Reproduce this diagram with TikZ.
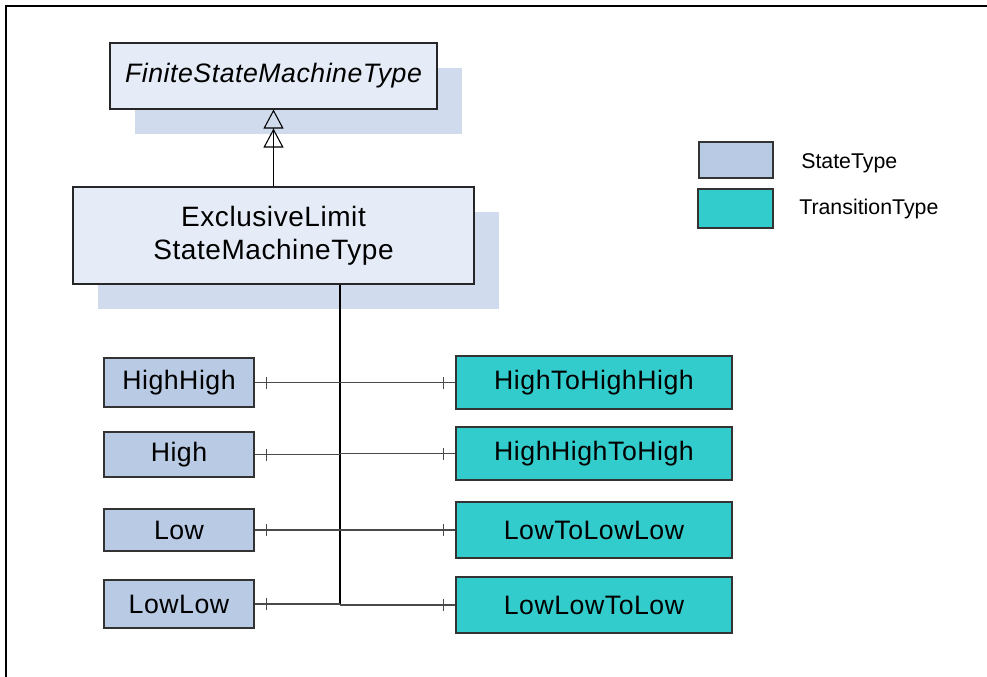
\documentclass[tikz,border=0pt]{standalone}
\usepackage{fontspec}
\setmainfont{Liberation Sans}
\newfontfamily\boxfont{Liberation Sans}[LetterSpace=2]
\usetikzlibrary{arrows.meta,shadows,decorations.markings}
\definecolor{classfill}{HTML}{E6ECF7}
\definecolor{shadowc}{HTML}{D0DCEE}
\definecolor{statefill}{HTML}{B8CAE4}
\definecolor{transfill}{HTML}{33CCCC}
\definecolor{linkgray}{HTML}{4A4A4A}
\tikzset{
  classbox/.style={draw=black!85, fill=classfill, line width=0.8pt, inner sep=0pt,
    general shadow={fill=shadowc, shadow xshift=18.75pt, shadow yshift=-18.75pt},
    font=\boxfont\fontsize{20}{24.75}\selectfont, align=center},
  statebox/.style={draw=black!80, fill=statefill, line width=0.8pt, inner sep=0pt,
    minimum width=112.5pt, font=\boxfont\fontsize{20}{23}\selectfont},
  transbox/.style={draw=black!80, fill=transfill, line width=0.8pt, inner sep=0pt,
    minimum width=207pt, font=\boxfont\fontsize{20}{23}\selectfont},
  legendtext/.style={anchor=west, inner sep=0pt, font=\fontsize{16}{19}\selectfont},
  buslink/.style={draw=black, line width=1pt},
  startbar/.style={draw=linkgray, line width=1pt, postaction={decorate},
    decoration={markings, mark=at position 9pt with {\draw[linkgray, line width=0.9pt] (0,-4.5pt) -- (0,4.5pt);}}},
  endbar/.style={draw=linkgray, line width=1pt, postaction={decorate},
    decoration={markings, mark=at position -9pt with {\draw[linkgray, line width=0.9pt] (0,-4.5pt) -- (0,4.5pt);}}},
  genarrow/.style={draw=black, line width=0.8pt,
    -{Triangle[open,width=15pt,length=14.25pt] Triangle[open,width=15pt,length=14.25pt]}}
}
\begin{document}
\begin{tikzpicture}[x=0.75pt,y=-0.75pt]
\useasboundingbox (0,0) rectangle (987,677);
\begin{scope}
\clip (0,0) rectangle (987,677);
\draw[line width=1.5pt, black] (6,6) rectangle (1000,700);
\end{scope}

% classes
\node[classbox, minimum width=245.25pt, minimum height=49.5pt] (fsm) at (273.5,76)
  {\itshape FiniteStateMachineType};
\node[classbox, minimum width=300.75pt, minimum height=72.75pt,
  font=\boxfont\fontsize{21}{24.75}\selectfont] (elsm) at (273.5,235.5)
  {ExclusiveLimit\\StateMachineType};

\draw[genarrow] (elsm.north) -- (fsm.south);

% states
\node[statebox, minimum height=36.75pt] (hh) at (179,382.5) {HighHigh};
\node[statebox, minimum height=33.75pt] (h)  at (179,454.5) {High};
\node[statebox, minimum height=31.5pt]  (l)  at (179,530)   {Low};
\node[statebox, minimum height=36pt]    (ll) at (179,604)   {LowLow};

% transitions
\node[transbox, minimum height=39.75pt] (t1) at (594,382.5) {HighToHighHigh};
\node[transbox, minimum height=39.75pt] (t2) at (594,453.5) {HighHighToHigh};
\node[transbox, minimum height=42pt]    (t3) at (594,530)   {LowToLowLow};
\node[transbox, minimum height=42pt]    (t4) at (594,605)   {LowLowToLow};

% bus
\coordinate (busEnd) at (340,604);
\draw[buslink] (elsm.south -| busEnd) -- (busEnd);

\draw[startbar] (hh.east) -- (hh.east -| busEnd);
\draw[startbar] (h.east)  -- (h.east -| busEnd);
\draw[startbar] (l.east)  -- (l.east -| busEnd);
\draw[startbar] (ll.east) -- (busEnd);

\draw[endbar] (t1.west -| busEnd) -- (t1.west);
\draw[endbar] (t2.west -| busEnd) -- (t2.west);
\draw[endbar] (t3.west -| busEnd) -- (t3.west);
\draw[endbar] (t4.west -| busEnd) -- (t4.west);

% legend
\node[draw=black!80, fill=statefill, line width=0.8pt, inner sep=0pt,
  minimum width=55.5pt, minimum height=27pt] (legS) at (736,160) {};
\node[draw=black!80, fill=transfill, line width=0.8pt, inner sep=0pt,
  minimum width=56.25pt, minimum height=29.25pt] (legT) at (735.5,208.5) {};
\node[legendtext] (legSt) at (801,163) {StateType};
\node[legendtext] (legTt) at (799,209) {TransitionType};
\end{tikzpicture}
\end{document}
